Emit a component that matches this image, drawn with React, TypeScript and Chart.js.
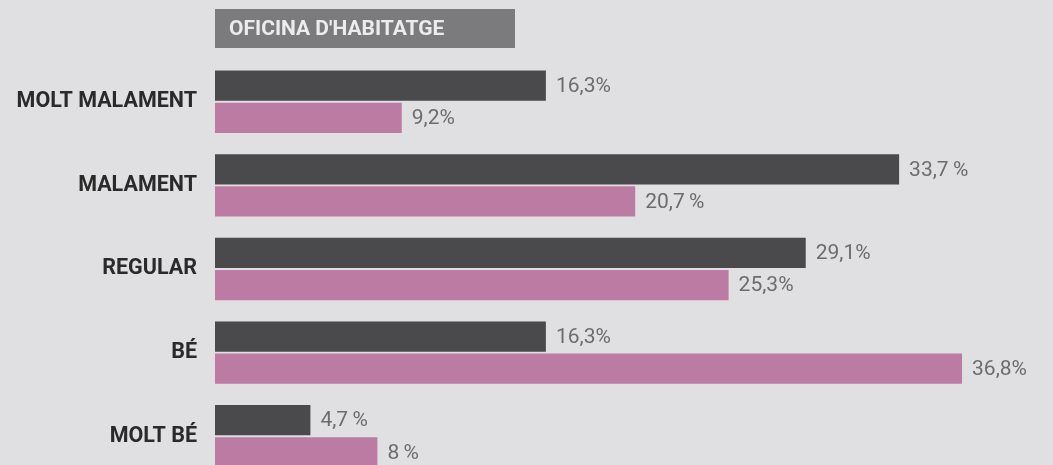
import React, { useEffect, useRef } from "react";
import { Chart, registerables } from "chart.js";

Chart.register(...registerables);

const title = "OFICINA D'HABITATGE";
const categories = ["MOLT MALAMENT", "MALAMENT", "REGULAR", "BÉ", "MOLT BÉ"];
const seriesDark = [16.3, 33.7, 29.1, 16.3, 4.7];
const seriesPink = [9.2, 20.7, 25.3, 36.8, 8];
const labelsDark = ["16,3%", "33,7\u2009%", "29,1%", "16,3%", "4,7\u2009%"];
const labelsPink = ["9,2%", "20,7\u2009%", "25,3%", "36,8%", "8\u2009%"];
const xMin = 0;
const xMax = 40;

const BG = "#e0e0e2";
const DARK = "#4a4a4c";
const PINK = "#bc7ba3";

const bgAndTitle = {
  id: "bgAndTitle",
  beforeDraw(chart: any) {
    const { ctx, width, height, chartArea } = chart;
    ctx.save();
    ctx.fillStyle = BG;
    ctx.fillRect(0, 0, width, height);
    const x0 = chartArea.left;
    ctx.fillStyle = "#7b7b7d";
    ctx.fillRect(x0, 9, 300, 39);
    ctx.fillStyle = "#ececec";
    ctx.font = "bold 21px Roboto";
    ctx.textBaseline = "middle";
    ctx.textAlign = "left";
    ctx.fillText(title, x0 + 14, 30);
    ctx.restore();
  },
};

const valueLabels = {
  id: "valueLabels",
  afterDatasetsDraw(chart: any) {
    const { ctx } = chart;
    const all = [labelsDark, labelsPink];
    ctx.save();
    ctx.font = "21px Roboto";
    ctx.fillStyle = "#6c6c6c";
    ctx.textBaseline = "middle";
    ctx.textAlign = "left";
    chart.data.datasets.forEach((_: any, di: number) => {
      const meta = chart.getDatasetMeta(di);
      meta.data.forEach((el: any, i: number) => {
        ctx.fillText(all[di][i], el.x + 10, el.y + 1);
      });
    });
    ctx.restore();
  },
};

export default function App() {
  const ref = useRef<HTMLCanvasElement | null>(null);

  useEffect(() => {
    document.body.style.margin = "0";
    document.body.style.background = BG;
    const chart = new Chart(ref.current!, {
      type: "bar",
      data: {
        labels: categories,
        datasets: [
          {
            data: seriesDark,
            backgroundColor: DARK,
            borderWidth: 0,
            categoryPercentage: 0.77,
            barPercentage: 0.94,
          },
          {
            data: seriesPink,
            backgroundColor: PINK,
            borderWidth: 0,
            categoryPercentage: 0.77,
            barPercentage: 0.94,
          },
        ],
      },
      options: {
        indexAxis: "y",
        animation: false,
        responsive: false,
        maintainAspectRatio: false,
        layout: { padding: { top: 60, right: 26, bottom: 0, left: 0 } },
        plugins: {
          legend: { display: false },
          tooltip: { enabled: false },
          title: { display: false },
        },
        scales: {
          x: {
            display: false,
            min: xMin,
            max: xMax,
          },
          y: {
            grid: { display: false, drawTicks: false },
            border: { display: false },
            ticks: {
              padding: 18,
              color: "#2a2a2a",
              font: { family: "Roboto", size: 21.5, weight: "bold" },
            },
            afterFit(scale: any) {
              scale.width = 215;
              scale.paddingTop = 0;
              scale.paddingBottom = 0;
            },
          },
        },
      },
      plugins: [bgAndTitle, valueLabels],
    } as any);
    return () => chart.destroy();
  }, []);

  return (
    <div
      style={{
        position: "fixed",
        left: 0,
        top: 0,
        width: 1053,
        height: 465,
        overflow: "hidden",
        background: BG,
      }}
    >
      <canvas ref={ref} width={1053} height={478} style={{ display: "block" }} />
    </div>
  );
}
